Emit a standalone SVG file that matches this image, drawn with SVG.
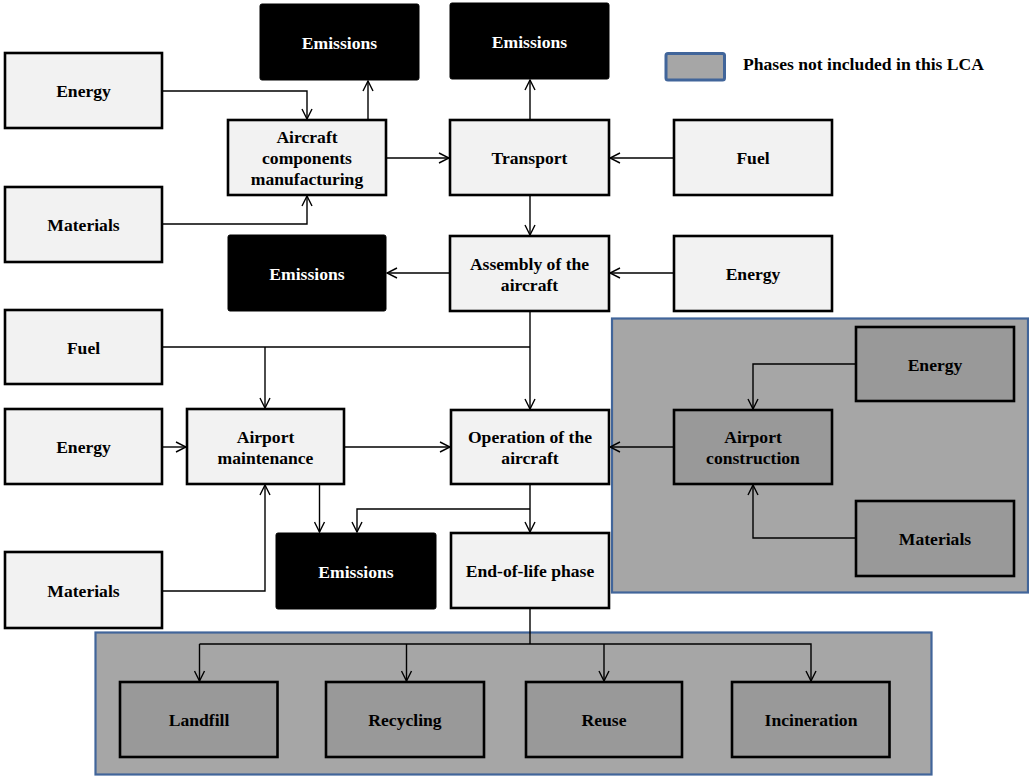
<svg xmlns="http://www.w3.org/2000/svg" width="1029" height="776" viewBox="0 0 1029 776">
<defs>
<marker id="arr" viewBox="0 0 12 12" refX="11" refY="6" markerWidth="12" markerHeight="12" markerUnits="userSpaceOnUse" orient="auto">
<path d="M1,1 L11,6 L1,11" fill="none" stroke="#000" stroke-width="1.4"/>
</marker>
</defs>
<style>
.lt{fill:#f2f2f2;stroke:#000;stroke-width:2.6}
.bk{fill:#000;stroke:#000;stroke-width:1}
.gy{fill:#999999;stroke:#000;stroke-width:2.6}
.panel{fill:#a6a6a6;stroke:#41659a;stroke-width:2.2}
text{font-family:'Liberation Serif','DejaVu Serif',serif;font-weight:bold;font-size:17.6px;text-anchor:middle;fill:#000}
.w{fill:#fff}
.c{fill:none;stroke:#000;stroke-width:1.4;marker-end:url(#arr)}
.cn{fill:none;stroke:#000;stroke-width:1.4}
</style>
<rect width="1029" height="776" fill="#fff"/>

<g id="panel-right"><rect class="panel" x="612" y="318.5" width="416" height="274"/></g>
<g id="panel-bottom"><rect class="panel" x="95.5" y="632.5" width="836" height="142"/></g>

<g id="legend">
<rect x="666" y="53.5" width="58.5" height="26.5" rx="2" fill="#a6a6a6" stroke="#41659a" stroke-width="3"/>
<text x="743" y="70" style="text-anchor:start">Phases not included in this LCA</text>
</g>

<g id="connectors">
<path class="c" d="M162,91 H307 V119"/>
<path class="c" d="M162,224 H307 V196"/>
<path class="c" d="M368,120 V81"/>
<path class="c" d="M386,158 H449"/>
<path class="c" d="M530,120 V80"/>
<path class="c" d="M674,158 H610"/>
<path class="c" d="M530,195 V235"/>
<path class="c" d="M674,273 H610"/>
<path class="c" d="M450,273 H387"/>
<path class="cn" d="M162,347 H530"/>
<path class="c" d="M530,311 V409"/>
<path class="c" d="M265,347 V408"/>
<path class="c" d="M162,447 H186"/>
<path class="c" d="M344,447 H450"/>
<path class="c" d="M162,591 H265 V485"/>
<path class="c" d="M319.5,484 V532"/>
<path class="c" d="M530,484 V532"/>
<path class="c" d="M530,509 H357 V532"/>
<path class="c" d="M674,447 H610"/>
<path class="c" d="M856,364 H753 V409"/>
<path class="c" d="M856,538 H753 V485"/>
<path class="cn" d="M530,608 V644"/>
<path class="c" d="M199.5,644 H811 V681"/>
<path class="c" d="M199.5,644 V681"/>
<path class="c" d="M406.5,644 V681"/>
<path class="c" d="M604,644 V681"/>
</g>

<g id="energy1"><rect class="lt" x="5" y="53" width="157" height="75"/><text x="83.5" y="97">Energy</text></g>
<g id="materials1"><rect class="lt" x="5" y="187" width="157" height="75"/><text x="83.5" y="231">Materials</text></g>
<g id="emissions1"><rect class="bk" x="260" y="4" width="159" height="76" rx="2"/><text class="w" x="339.5" y="48.5">Emissions</text></g>
<g id="acm"><rect class="lt" x="228" y="120" width="158" height="75"/>
<text x="307" y="142.5">Aircraft</text><text x="307" y="163.5">components</text><text x="307" y="184.5">manufacturing</text></g>
<g id="emissions2"><rect class="bk" x="450" y="3" width="159" height="76" rx="2"/><text class="w" x="529.5" y="47.5">Emissions</text></g>
<g id="transport"><rect class="lt" x="450" y="120" width="159" height="75"/><text x="529.5" y="164">Transport</text></g>
<g id="fuel1"><rect class="lt" x="674" y="120" width="158" height="75"/><text x="753" y="164">Fuel</text></g>
<g id="emissions3"><rect class="bk" x="228" y="235" width="158" height="76" rx="2"/><text class="w" x="307" y="280">Emissions</text></g>
<g id="assembly"><rect class="lt" x="450" y="236" width="159" height="75"/>
<text x="529.5" y="269.5">Assembly of the</text><text x="529.5" y="290.5">aircraft</text></g>
<g id="energy2"><rect class="lt" x="674" y="236" width="158" height="75"/><text x="753" y="280">Energy</text></g>
<g id="fuel2"><rect class="lt" x="5" y="310" width="157" height="74"/><text x="83.5" y="354">Fuel</text></g>
<g id="energy3"><rect class="lt" x="5" y="409" width="157" height="75"/><text x="83.5" y="453">Energy</text></g>
<g id="airport-maint"><rect class="lt" x="187" y="409" width="157" height="75"/>
<text x="265.5" y="442.5">Airport</text><text x="265.5" y="463.5">maintenance</text></g>
<g id="operation"><rect class="lt" x="451" y="410" width="158" height="74"/>
<text x="530" y="443">Operation of the</text><text x="530" y="464">aircraft</text></g>
<g id="materials2"><rect class="lt" x="5" y="552" width="157" height="76"/><text x="83.5" y="596.5">Materials</text></g>
<g id="emissions4"><rect class="bk" x="276" y="533" width="160" height="76" rx="2"/><text class="w" x="356" y="578">Emissions</text></g>
<g id="eol"><rect class="lt" x="451" y="533" width="158" height="75"/><text x="530" y="577">End-of-life phase</text></g>
<g id="energy4"><rect class="gy" x="856" y="327" width="158" height="74"/><text x="935" y="370.5">Energy</text></g>
<g id="airport-constr"><rect class="gy" x="674" y="410" width="158" height="74"/>
<text x="753" y="443">Airport</text><text x="753" y="464">construction</text></g>
<g id="materials3"><rect class="gy" x="856" y="501" width="158" height="75"/><text x="935" y="545">Materials</text></g>
<g id="landfill"><rect class="gy" x="120" y="682" width="157.5" height="75"/><text x="199" y="726">Landfill</text></g>
<g id="recycling"><rect class="gy" x="326" y="682" width="158" height="75"/><text x="405" y="726">Recycling</text></g>
<g id="reuse"><rect class="gy" x="526" y="682" width="156" height="75"/><text x="604" y="726">Reuse</text></g>
<g id="incineration"><rect class="gy" x="732" y="682" width="157.5" height="75"/><text x="811" y="726">Incineration</text></g>
</svg>
